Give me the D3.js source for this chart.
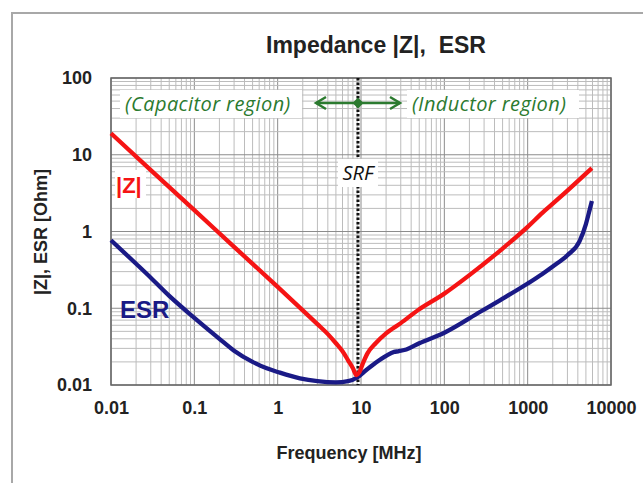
<!DOCTYPE html>
<html>
<head>
<meta charset="utf-8">
<script src="https://cdn.jsdelivr.net/npm/d3@7/dist/d3.min.js"></script>
<style>
  html, body { margin: 0; padding: 0; background: #fff; }
  svg { display: block; }
</style>
</head>
<body>
<svg id="chart" width="643" height="483"></svg>
<script>
// ---- data ----
const zFreq = [0.01, 0.03, 0.1, 0.3, 1, 2, 3, 4, 5, 6, 7, 8, 8.8, 9.5, 10.5, 12, 15, 20, 30, 50, 100, 200, 500, 1000, 1500, 2000, 3000, 4500, 5900];
const zValues = [19, 6.3, 1.9, 0.63, 0.19, 0.094, 0.062, 0.046, 0.035, 0.0275, 0.021, 0.0165, 0.0135, 0.0145, 0.019, 0.026, 0.035, 0.047, 0.064, 0.097, 0.155, 0.27, 0.6, 1.15, 1.75, 2.3, 3.4, 5.1, 6.7];

const esrFreq = [0.01, 0.02, 0.03, 0.05, 0.1, 0.2, 0.3, 0.5, 0.74, 1, 1.85, 3, 5, 7, 9, 11, 15, 20, 25, 28, 35, 50, 100, 270, 470, 1000, 1500, 2000, 3000, 4200, 5000, 5600, 5900];
const esrValues = [0.77, 0.38, 0.25, 0.145, 0.075, 0.04, 0.028, 0.02, 0.0165, 0.0148, 0.0122, 0.0112, 0.0108, 0.0112, 0.0125, 0.015, 0.0195, 0.024, 0.027, 0.0275, 0.029, 0.035, 0.048, 0.09, 0.128, 0.21, 0.28, 0.35, 0.49, 0.75, 1.25, 2.0, 2.5];

const srfFreq = 9.2;

const xTickValues = [0.01, 0.1, 1, 10, 100, 1000, 10000];
const xTickLabels = ["0.01", "0.1", "1", "10", "100", "1000", "10000"];
const yTickValues = [0.01, 0.1, 1, 10, 100];
const yTickLabels = ["0.01", "0.1", "1", "10", "100"];

const titleText = "Impedance |Z|,\u00A0 ESR";
const xTitle = "Frequency [MHz]";
const yTitle = "|Z|, ESR [Ohm]";

// ---- layout ----
const plot = { left: 111, top: 78, right: 611, bottom: 385 };
const svg = d3.select("#chart");

// outer frame
svg.append("rect")
  .attr("x", 12).attr("y", 13).attr("width", 700).attr("height", 520)
  .attr("fill", "#fff").attr("stroke", "#a8a8a8").attr("stroke-width", 2);

const x = d3.scaleLog().domain([0.01, 10000]).range([plot.left, plot.right]);
const y = d3.scaleLog().domain([0.01, 100]).range([plot.bottom, plot.top]);

svg.append("rect")
  .attr("x", plot.left).attr("y", plot.top)
  .attr("width", plot.right - plot.left).attr("height", plot.bottom - plot.top)
  .attr("fill", "#fff");

// grid
const isMajor = v => Math.abs(Math.log10(v) - Math.round(Math.log10(v))) < 1e-6;
const gridG = svg.append("g");
x.ticks().forEach(v => {
  gridG.append("line")
    .attr("x1", x(v)).attr("x2", x(v)).attr("y1", plot.top).attr("y2", plot.bottom)
    .attr("stroke", isMajor(v) ? "#8c8c8c" : "#bcbcbc").attr("stroke-width", 1);
});
y.ticks().forEach(v => {
  gridG.append("line")
    .attr("y1", y(v)).attr("y2", y(v)).attr("x1", plot.left).attr("x2", plot.right)
    .attr("stroke", isMajor(v) ? "#8c8c8c" : "#bcbcbc").attr("stroke-width", 1);
});

// plot border
svg.append("rect")
  .attr("x", plot.left).attr("y", plot.top)
  .attr("width", plot.right - plot.left).attr("height", plot.bottom - plot.top)
  .attr("fill", "none").attr("stroke", "#666").attr("stroke-width", 1.5);

const green = "#2b7a2f";
const annFont = "Open Sans, sans-serif";

// region text backgrounds
svg.append("rect").attr("x", 120).attr("y", 90).attr("width", 182).attr("height", 28).attr("fill", "#fff");
svg.append("rect").attr("x", 407).attr("y", 90).attr("width", 172).attr("height", 28).attr("fill", "#fff");

// SRF dotted line
svg.append("line")
  .attr("x1", x(srfFreq)).attr("x2", x(srfFreq))
  .attr("y1", plot.top).attr("y2", plot.bottom)
  .attr("stroke", "#111").attr("stroke-width", 3).attr("stroke-dasharray", "2.5,2");

// SRF label
svg.append("rect").attr("x", x(srfFreq) - 20).attr("y", 159).attr("width", 40).attr("height", 28).attr("fill", "#fff");
svg.append("text")
  .attr("x", x(srfFreq)).attr("y", 180).attr("text-anchor", "middle")
  .attr("font-family", annFont).attr("font-style", "italic").attr("font-size", 20)
  .attr("fill", "#111").text("SRF");

// region texts
svg.append("text")
  .attr("x", 125).attr("y", 111)
  .attr("font-family", annFont).attr("font-style", "italic").attr("font-size", 20)
  .attr("letter-spacing", 0.4)
  .attr("fill", green).text("(Capacitor region)");
svg.append("text")
  .attr("x", 412).attr("y", 111)
  .attr("font-family", annFont).attr("font-style", "italic").attr("font-size", 20)
  .attr("letter-spacing", 0.4)
  .attr("fill", green).text("(Inductor region)");

// double arrow
const ay = 103, ax1 = 316, ax2 = 400, cx = x(srfFreq);
svg.append("line").attr("x1", ax1).attr("x2", ax2).attr("y1", ay).attr("y2", ay)
  .attr("stroke", green).attr("stroke-width", 2.5);
svg.append("path").attr("d", `M${ax1 + 10},${ay - 6} L${ax1},${ay} L${ax1 + 10},${ay + 6}`)
  .attr("fill", "none").attr("stroke", green).attr("stroke-width", 2.5);
svg.append("path").attr("d", `M${ax2 - 10},${ay - 6} L${ax2},${ay} L${ax2 - 10},${ay + 6}`)
  .attr("fill", "none").attr("stroke", green).attr("stroke-width", 2.5);
svg.append("path").attr("d", `M${cx},${ay - 5.5} L${cx + 5.5},${ay} L${cx},${ay + 5.5} L${cx - 5.5},${ay} Z`)
  .attr("fill", green);

// curves
const line = d3.line().x(d => x(d[0])).y(d => y(d[1])).curve(d3.curveMonotoneX);
const zData = zFreq.map((f, i) => [f, zValues[i]]);
const esrData = esrFreq.map((f, i) => [f, esrValues[i]]);
const red = "#f51414", navy = "#1a1a86";

svg.append("path").datum(esrData).attr("d", line)
  .attr("fill", "none").attr("stroke", navy).attr("stroke-width", 4.3).attr("stroke-linejoin", "round");
svg.append("path").datum(zData).attr("d", line)
  .attr("fill", "none").attr("stroke", red).attr("stroke-width", 4.3).attr("stroke-linejoin", "round");

// series labels
const font = "Liberation Sans, Arial, sans-serif";
svg.append("rect").attr("x", 115).attr("y", 170).attr("width", 31).attr("height", 28).attr("fill", "#fff");
svg.append("text").attr("x", 116).attr("y", 193)
  .attr("font-family", font).attr("font-weight", "bold").attr("font-size", 22)
  .attr("fill", red).text("|Z|");
svg.append("text").attr("x", 120).attr("y", 318)
  .attr("font-family", font).attr("font-weight", "bold").attr("font-size", 24)
  .attr("fill", navy).text("ESR");

// axes
const xAxis = d3.axisBottom(x).tickValues(xTickValues)
  .tickFormat((d, i) => xTickLabels[i]).tickSize(0).tickPadding(16);
const gx = svg.append("g").attr("transform", `translate(0,${plot.bottom})`).call(xAxis);
gx.select(".domain").remove();
gx.selectAll("text").attr("font-family", font).attr("font-weight", "bold")
  .attr("font-size", 18).attr("fill", "#222");

const yAxis = d3.axisLeft(y).tickValues(yTickValues)
  .tickFormat((d, i) => yTickLabels[i]).tickSize(0).tickPadding(19);
const gy = svg.append("g").attr("transform", `translate(${plot.left},0)`).call(yAxis);
gy.select(".domain").remove();
gy.selectAll("text").attr("font-family", font).attr("font-weight", "bold")
  .attr("font-size", 18).attr("fill", "#222");

// titles
svg.append("text").attr("x", 376).attr("y", 53).attr("text-anchor", "middle")
  .attr("font-family", font).attr("font-weight", "bold").attr("font-size", 23)
  .attr("fill", "#222").text(titleText);
svg.append("text").attr("x", 349).attr("y", 459).attr("text-anchor", "middle")
  .attr("font-family", font).attr("font-weight", "bold").attr("font-size", 18)
  .attr("fill", "#222").text(xTitle);
svg.append("text").attr("transform", `translate(47,232) rotate(-90)`).attr("text-anchor", "middle")
  .attr("font-family", font).attr("font-weight", "bold").attr("font-size", 18)
  .attr("fill", "#222").text(yTitle);
</script>
</body>
</html>
